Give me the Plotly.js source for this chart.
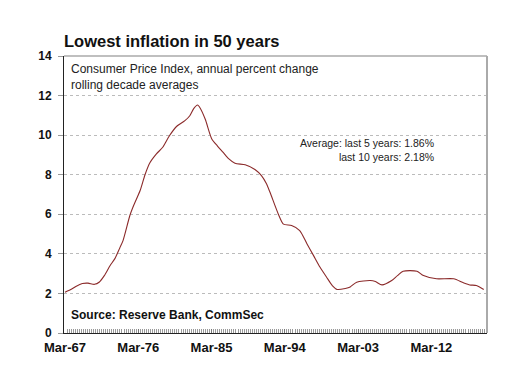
<!DOCTYPE html>
<html>
<head>
<meta charset="utf-8">
<script src="https://cdn.plot.ly/plotly-3.0.1.min.js"></script>
<style>html,body{margin:0;padding:0;background:#fff;}#chart{width:516px;height:379px;}</style>
</head>
<body>
<div id="chart"></div>
<script>
// Quarter positions expressed as decimal years (Mar quarter = .17)
const years = [1967.17,1968.0,1968.5,1969.3,1970.0,1970.8,1971.4,1972.0,1972.7,1973.3,1973.9,1974.3,
  1975.15,1975.6,1976.4,1977.0,1977.6,1978.4,1979.2,1980.0,1980.9,1981.9,1982.5,1983.0,1983.45,1983.8,
  1984.4,1985.2,1985.9,1986.6,1987.3,1988.05,1989.3,1990.5,1991.3,1991.9,1992.35,1993.4,1994.0,1995.0,
  1996.0,1996.9,1997.7,1998.5,1999.3,2000.0,2000.6,2001.6,2002.2,2003.0,2004.65,2005.3,2006.1,2007.3,
  2008.0,2008.7,2010.4,2011.2,2012.8,2014.9,2016.1,2016.9,2017.7,2018.6];
const cpiDecadeAvg = [2.06,2.22,2.35,2.5,2.52,2.46,2.58,2.9,3.4,3.76,4.3,4.67,
  5.95,6.44,7.2,8.0,8.6,9.05,9.4,9.97,10.45,10.73,10.98,11.35,11.52,11.35,
  10.8,9.81,9.45,9.13,8.8,8.58,8.5,8.26,7.95,7.55,7.11,5.98,5.5,5.43,
  5.18,4.5,3.91,3.32,2.82,2.4,2.2,2.25,2.33,2.57,2.65,2.6,2.43,2.65,
  2.9,3.12,3.12,2.9,2.74,2.74,2.54,2.43,2.4,2.2];
const tickPositions = [1967.17,1976.17,1985.17,1994.17,2003.17,2012.17];
const tickLabels = ["Mar-67","Mar-76","Mar-85","Mar-94","Mar-03","Mar-12"];
const titleText = "Lowest inflation in 50 years";
const noteLines = ["Consumer Price Index, annual percent change","rolling decade averages"];
const avgLines = ["Average: last 5 years: 1.86%","last 10 years: 2.18%"];
const sourceText = "Source: Reserve Bank, CommSec";

const F = "Liberation Sans, Arial, sans-serif";
const trace = {
  x: years, y: cpiDecadeAvg, type: 'scatter', mode: 'lines',
  line: {color: '#8b2a2a', width: 1.1, shape: 'spline', smoothing: 0.7},
  hoverinfo: 'skip'
};
const layout = {
  width: 516, height: 379,
  margin: {l: 64, r: 29, t: 56, b: 46},
  paper_bgcolor: '#fff', plot_bgcolor: '#fff',
  showlegend: false,
  title: {text: titleText, x: 64/516, xanchor: 'left', y: 1 - 41/379, yanchor: 'middle',
    font: {family: F, size: 16.5, color: '#111', weight: 'bold'}},
  xaxis: {
    range: [1967.05, 2019.0], tickmode: 'array', tickvals: tickPositions, ticktext: tickLabels,
    ticks: 'inside', ticklen: 4, tickcolor: '#777', showgrid: false, zeroline: false,
    showline: true, linecolor: '#222', linewidth: 1,
    tickfont: {family: F, size: 13, color: '#111', weight: 'bold'}, ticklabelstandoff: 2,
    minor: {tickmode: 'linear', tick0: 1967.17, dtick: 0.25, ticks: 'inside', ticklen: 4, tickcolor: '#999', showgrid: false}
  },
  yaxis: {
    range: [0, 14], dtick: 2, ticks: 'outside', ticklen: 5, tickcolor: '#999',
    showline: true, linecolor: '#222', linewidth: 1, zeroline: false,
    showgrid: true, gridcolor: '#bbb', griddash: 'dot', gridwidth: 1,
    tickfont: {family: F, size: 12, color: '#111', weight: 'bold'}, ticklabelstandoff: 4
  },
  shapes: [
    {type: 'line', xref: 'paper', yref: 'paper', x0: 0, x1: 1, y0: 1, y1: 1, line: {color: '#aaa', width: 1.5}},
    {type: 'line', xref: 'paper', yref: 'paper', x0: 1, x1: 1, y0: 0, y1: 1, line: {color: '#aaa', width: 2}}
  ],
  annotations: [
    {xref: 'paper', yref: 'paper', x: 5/423, y: (333-77)/277, xanchor: 'left', yanchor: 'middle', showarrow: false, align: 'left',
      text: noteLines.join('<br>'), font: {family: F, size: 12, color: '#222'}},
    {xref: 'paper', yref: 'paper', x: (436-64)/423, y: (333-150)/277, xanchor: 'right', yanchor: 'middle', showarrow: false, align: 'right',
      text: avgLines.join('<br>'), font: {family: F, size: 10.5, color: '#222'}},
    {xref: 'paper', yref: 'paper', x: 5/423, y: (333-315)/277, xanchor: 'left', yanchor: 'middle', showarrow: false, align: 'left',
      text: sourceText, font: {family: F, size: 12, color: '#111', weight: 'bold'}}
  ]
};
Plotly.newPlot('chart', [trace], layout, {displayModeBar: false, staticPlot: true});
</script>
</body>
</html>
